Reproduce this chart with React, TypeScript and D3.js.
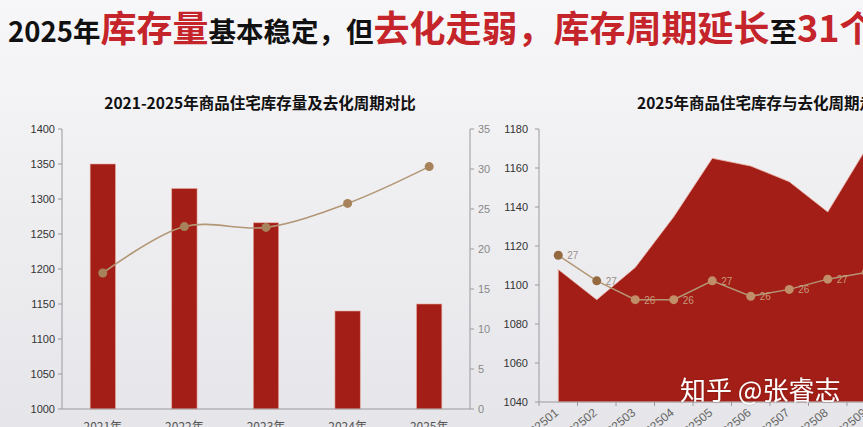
import React from "react";
import * as d3 from "d3";

// ---------- data ----------
const headlineParts = ["2025年", "库存量", "基本稳定，但", "去化走弱，库存周期延长", "至", "31个月"];
const headlineRed = [false, true, false, true, false, true];

const leftTitle = "2021-2025年商品住宅库存量及去化周期对比";
const years = ["2021年", "2022年", "2023年", "2024年", "2025年"];
const inventory = [1350, 1315, 1266, 1140, 1150];
const cycleYears = [17.0, 22.8, 22.7, 25.7, 30.3];
const leftTicks = [1000, 1050, 1100, 1150, 1200, 1250, 1300, 1350, 1400];
const rightTicks = [0, 5, 10, 15, 20, 25, 30, 35];

const rightTitle = "2025年商品住宅库存与去化周期走势";
const months = ["202501", "202502", "202503", "202504", "202505", "202506", "202507", "202508", "202509"];
const monthlyStock = [1108, 1092.5, 1109, 1135, 1165, 1161, 1153, 1137.5, 1170];
const monthlyCycle = [27.3, 26.55, 26.0, 26.0, 26.55, 26.1, 26.3, 26.6, 26.8];
const stockTicks = [1040, 1060, 1080, 1100, 1120, 1140, 1160, 1180];

const watermark = "知乎 @张睿志";

// ---------- styles ----------
const W = 863;
const H = 427;
const RED = "#a31e16";
const TITLE_RED = "#c4242a";
const LINE = "#b39676";
const DOT = "#a7825a";
const NUM_FONT = "'Liberation Sans', Arial, 'Noto Sans CJK SC', sans-serif";
const CJK_FONT = "'Noto Sans CJK SC', 'Noto Sans', sans-serif";

export default function App() {
  // left chart scales
  const lx = d3.scaleBand<string>().domain(years).range([62, 470]);
  const ly = d3.scaleLinear().domain([1000, 1400]).range([409, 129]);
  const ly2 = d3.scaleLinear().domain([0, 35]).range([409, 129]);
  const barW = lx.bandwidth() * 0.31;
  const lcx = (d: string) => (lx(d) as number) + lx.bandwidth() / 2;
  const leftLine = d3
    .line<number>()
    .x((_, i) => lcx(years[i]))
    .y((d) => ly2(d))
    .curve(d3.curveCatmullRom.alpha(0.5))(cycleYears) as string;

  // right chart scales
  const rx = d3.scaleBand<string>().domain(months).range([539, 539 + months.length * 38.5]);
  const ry = d3.scaleLinear().domain([1040, 1180]).range([402, 129]);
  const ry2 = d3.scaleLinear().domain([23, 31]).range([402, 129]);
  const rcx = (d: string) => (rx(d) as number) + rx.bandwidth() / 2;
  const area = d3
    .area<number>()
    .x((_, i) => rcx(months[i]))
    .y0(ry(1040))
    .y1((d) => ry(d))(monthlyStock) as string;
  const rightLine = d3
    .line<number>()
    .x((_, i) => rcx(months[i]))
    .y((d) => ry2(d))(monthlyCycle) as string;
  const fmt = d3.format(".0f");

  return (
    <svg
      width={W}
      height={H}
      style={{ position: "absolute", left: 0, top: 0 }}
      xmlns="http://www.w3.org/2000/svg"
    >
      <defs>
        <linearGradient id="bg" x1="0" y1="0" x2="0" y2="1">
          <stop offset="0" stopColor="#f7f7f9" />
          <stop offset="0.5" stopColor="#eeeef1" />
          <stop offset="1" stopColor="#e6e6ea" />
        </linearGradient>
        <filter id="ws" x="-10%" y="-30%" width="120%" height="160%">
          <feDropShadow dx="0" dy="0" stdDeviation="1.2" floodColor="#000" floodOpacity="0.25" />
        </filter>
      </defs>
      <rect x={0} y={0} width={W} height={H} fill="url(#bg)" />

      {/* headline */}
      <text x={8} y={42} fontFamily={CJK_FONT} fontWeight={700}>
        {headlineParts.map((t, i) => (
          <tspan
            key={i}
            fill={headlineRed[i] ? TITLE_RED : "#111"}
            fontSize={headlineRed[i] ? 36 : 27.5}
          >
            {t}
          </tspan>
        ))}
      </text>

      {/* ---------- left chart ---------- */}
      <text x={260} y={109} textAnchor="middle" fontFamily={CJK_FONT} fontWeight={700} fontSize={15.5} fill="#111">
        {leftTitle}
      </text>
      {/* axes */}
      <line x1={62} y1={129} x2={62} y2={409} stroke="#9a9a9e" strokeWidth={1} />
      <line x1={470} y1={129} x2={470} y2={409} stroke="#9a9a9e" strokeWidth={1} />
      {leftTicks.map((t) => (
        <g key={"lt" + t}>
          <line x1={58} x2={62} y1={ly(t)} y2={ly(t)} stroke="#9a9a9e" />
          <text x={55} y={ly(t) + 4} textAnchor="end" fontFamily={NUM_FONT} fontSize={11} fill="#333">
            {t}
          </text>
        </g>
      ))}
      {rightTicks.map((t) => (
        <g key={"rt" + t}>
          <line x1={470} x2={474} y1={ly2(t)} y2={ly2(t)} stroke="#9a9a9e" />
          <text x={478} y={ly2(t) + 4} textAnchor="start" fontFamily={NUM_FONT} fontSize={11} fill="#888">
            {t}
          </text>
        </g>
      ))}
      {/* bars */}
      {inventory.map((v, i) => (
        <rect
          key={"b" + i}
          x={lcx(years[i]) - barW / 2}
          y={ly(v)}
          width={barW}
          height={ly(1000) - ly(v)}
          fill={RED}
          stroke="#e7a79b"
          strokeWidth={0.6}
        />
      ))}
      <line x1={62} y1={409} x2={470} y2={409} stroke="#9a9a9e" strokeWidth={1} />
      {years.map((y) => (
        <text key={"xl" + y} x={lcx(y)} y={431} textAnchor="middle" fontFamily={CJK_FONT} fontSize={12} fill="#555">
          {y}
        </text>
      ))}
      {/* line */}
      <path d={leftLine} fill="none" stroke={LINE} strokeWidth={1.6} />
      {cycleYears.map((v, i) => (
        <circle key={"lp" + i} cx={lcx(years[i])} cy={ly2(v)} r={4.5} fill={DOT} />
      ))}

      {/* ---------- right chart ---------- */}
      <text x={637} y={109} textAnchor="start" fontFamily={CJK_FONT} fontWeight={700} fontSize={15.5} fill="#111">
        {rightTitle}
      </text>
      <path d={area} fill={RED} stroke="#ecb8ad" strokeWidth={0.8} />
      <line x1={539} y1={129} x2={539} y2={402} stroke="#9a9a9e" strokeWidth={1} />
      {stockTicks.map((t) => (
        <g key={"st" + t}>
          <line x1={535} x2={539} y1={ry(t)} y2={ry(t)} stroke="#9a9a9e" />
          <text x={528} y={ry(t) + 4} textAnchor="end" fontFamily={NUM_FONT} fontSize={11} fill="#333">
            {t}
          </text>
        </g>
      ))}
      <line x1={539} y1={402} x2={W} y2={402} stroke="#9a9a9e" strokeWidth={1} />
      {months.map((m) => (
        <g key={"mt" + m}>
          <line x1={rx(m) as number} x2={rx(m) as number} y1={402} y2={406} stroke="#9a9a9e" />
          <text
            transform={`translate(${rcx(m) + 1},${414}) rotate(-40)`}
            textAnchor="end"
            fontFamily={NUM_FONT}
            fontSize={12}
            fill="#666"
          >
            {m}
          </text>
        </g>
      ))}
      <path d={rightLine} fill="none" stroke={LINE} strokeWidth={1.5} />
      {monthlyCycle.map((v, i) => (
        <g key={"rp" + i}>
          <circle cx={rcx(months[i])} cy={ry2(v)} r={4.5} fill={i < 2 ? "#94693f" : "#c08e68"} />
          <text
            x={rcx(months[i]) + 9}
            y={ry2(v) + 4}
            fontFamily={NUM_FONT}
            fontSize={10}
            fill={i < 2 ? "#9a9088" : "#c79a7c"}
          >
            {fmt(v)}
          </text>
        </g>
      ))}

      {/* watermark */}
      <text
        x={680}
        y={400}
        fontFamily={CJK_FONT}
        fontSize={26}
        fill="#ffffff"
        filter="url(#ws)"
      >
        {watermark}
      </text>
    </svg>
  );
}
